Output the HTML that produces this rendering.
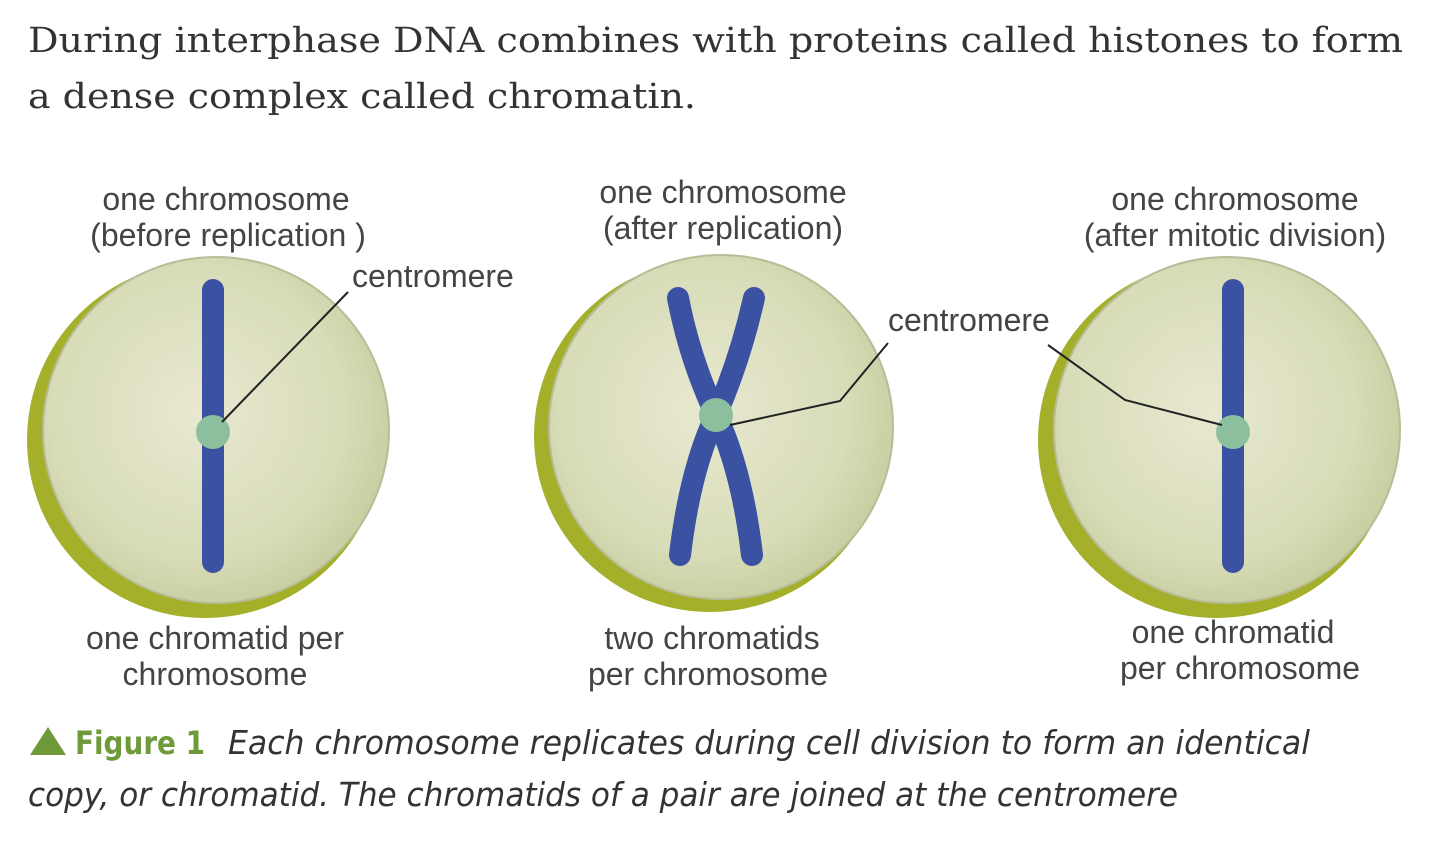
<!DOCTYPE html>
<html><head><meta charset="utf-8"><style>
body{margin:0;background:#fff;width:1440px;height:864px;overflow:hidden}
svg{display:block}
.h{font-family:"DejaVu Serif","Liberation Serif",serif;font-size:35px;fill:#333}
.l{font-family:"Liberation Sans",sans-serif;font-size:32px;fill:#444}
.c{font-family:"DejaVu Sans Condensed","Liberation Sans",sans-serif;font-size:33px;font-style:italic;fill:#333}
</style></head><body>
<svg width="1440" height="864" viewBox="0 0 1440 864">
<defs>
<radialGradient id="g" cx="0.45" cy="0.45" r="0.6"><stop offset="0" stop-color="#e8e8d0"/><stop offset="0.7" stop-color="#d8dcb8"/><stop offset="1" stop-color="#c4cc9c"/></radialGradient>
</defs>
<text class="h" x="28" y="52" textLength="1375" lengthAdjust="spacingAndGlyphs">During interphase DNA combines with proteins called histones to form</text>
<text class="h" x="28" y="108" textLength="668" lengthAdjust="spacingAndGlyphs">a dense complex called chromatin.</text>

<g>
<circle cx="205" cy="440" r="178" fill="#a4b02a"/>
<circle cx="216" cy="430" r="173" fill="url(#g)" stroke="#b8bc98" stroke-width="2"/>
<line x1="213" y1="290" x2="213" y2="562" stroke="#3b52a3" stroke-width="22" stroke-linecap="round"/>
<circle cx="213" cy="432" r="17" fill="#8cbf9e"/>
<line x1="222" y1="422" x2="348" y2="292" stroke="#222" stroke-width="2"/>
</g>
<g>
<circle cx="710" cy="436" r="176" fill="#a4b02a"/>
<circle cx="721" cy="427" r="172" fill="url(#g)" stroke="#b8bc98" stroke-width="2"/>
<path d="M678 298 Q690 360 716 415 Q740 360 754 298 M716 415 Q690 470 680 555 M716 415 Q742 470 752 555" fill="none" stroke="#3b52a3" stroke-width="22" stroke-linecap="round"/>
<circle cx="716" cy="415" r="17" fill="#8cbf9e"/>
<polyline points="730,425 840,401 888,343" fill="none" stroke="#222" stroke-width="2"/>
</g>
<g>
<circle cx="1216" cy="440" r="178" fill="#a4b02a"/>
<circle cx="1227" cy="430" r="173" fill="url(#g)" stroke="#b8bc98" stroke-width="2"/>
<line x1="1233" y1="290" x2="1233" y2="562" stroke="#3b52a3" stroke-width="22" stroke-linecap="round"/>
<circle cx="1233" cy="432" r="17" fill="#8cbf9e"/>
<polyline points="1048,345 1125,400 1222,425" fill="none" stroke="#222" stroke-width="2"/>
</g>

<text class="l" x="226" y="210" text-anchor="middle">one chromosome</text>
<text class="l" x="228" y="246" text-anchor="middle">(before replication )</text>
<text class="l" x="352" y="287">centromere</text>
<text class="l" x="723" y="203" text-anchor="middle">one chromosome</text>
<text class="l" x="723" y="239" text-anchor="middle">(after replication)</text>
<text class="l" x="888" y="331">centromere</text>
<text class="l" x="1235" y="210" text-anchor="middle">one chromosome</text>
<text class="l" x="1235" y="246" text-anchor="middle">(after mitotic division)</text>
<text class="l" x="215" y="649" text-anchor="middle">one chromatid per</text>
<text class="l" x="215" y="685" text-anchor="middle">chromosome</text>
<text class="l" x="712" y="649" text-anchor="middle">two chromatids</text>
<text class="l" x="708" y="685" text-anchor="middle">per chromosome</text>
<text class="l" x="1233" y="643" text-anchor="middle">one chromatid</text>
<text class="l" x="1240" y="679" text-anchor="middle">per chromosome</text>

<polygon points="30,755 48,727 66,755" fill="#6f9a3a"/>
<text x="75" y="754" font-family="DejaVu Sans Condensed,Liberation Sans,sans-serif" font-size="32" font-weight="bold" fill="#6f9a3a" textLength="130" lengthAdjust="spacingAndGlyphs">Figure 1</text>
<text class="c" x="228" y="754" textLength="1082" lengthAdjust="spacingAndGlyphs">Each chromosome replicates during cell division to form an identical</text>
<text class="c" x="28" y="806" textLength="1150" lengthAdjust="spacingAndGlyphs">copy, or chromatid. The chromatids of a pair are joined at the centromere</text>
</svg>
</body></html>
